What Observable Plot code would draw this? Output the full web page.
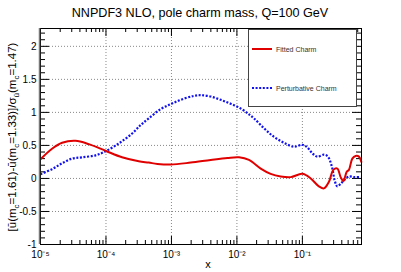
<!DOCTYPE html>
<html><head><meta charset="utf-8">
<script src="https://cdn.jsdelivr.net/npm/d3@7"></script>
<script src="https://cdn.jsdelivr.net/npm/@observablehq/plot@0.6"></script>
<style>body{margin:0;background:#fff} svg{display:block}</style>
</head><body><div id="chart"></div>
<script>
// ---- data ----
const fittedX = [1e-5, 1.5e-5, 2.14e-5, 3.42e-5, 5.46e-5, 9.8e-5, 1.76e-4, 3.17e-4, 4.5e-4, 6.1e-4, 9.75e-4,
  1.97e-3, 3.98e-3, 7.16e-3, 1.08e-2, 1.53e-2, 2.31e-2, 3.28e-2, 4.67e-2, 6.63e-2, 0.1, 0.134, 0.179, 0.214,
  0.255, 0.297, 0.342, 0.384, 0.423, 0.475, 0.514, 0.579, 0.651, 0.731, 0.796];
const fittedY = [0.29, 0.45, 0.54, 0.57, 0.52, 0.42, 0.32, 0.26, 0.24, 0.22, 0.21,
  0.24, 0.28, 0.31, 0.32, 0.28, 0.15, 0.07, 0.03, 0.02, 0.07, 0.0, -0.12, -0.15,
  -0.05, 0.13, 0.15, 0.02, -0.04, 0.10, 0.13, 0.30, 0.34, 0.33, 0.25];
const pertX = [1e-5, 1.5e-5, 2.14e-5, 3.03e-5, 4.31e-5, 6.92e-5, 9.8e-5, 1.57e-4, 2.5e-4, 3.4e-4, 4.5e-4,
  6.87e-4, 1e-3, 1.47e-3, 2.21e-3, 2.8e-3, 3.98e-3, 5.66e-3, 8.04e-3, 1.14e-2, 1.53e-2, 1.82e-2, 2.59e-2,
  3.68e-2, 5.24e-2, 7.44e-2, 0.1, 0.119, 0.142, 0.169, 0.214, 0.246, 0.287, 0.311, 0.342, 0.384, 0.431,
  0.514, 0.614, 0.776];
const pertY = [0.065, 0.14, 0.23, 0.30, 0.32, 0.35, 0.41, 0.53, 0.68, 0.81, 0.91,
  1.05, 1.13, 1.20, 1.25, 1.26, 1.24, 1.19, 1.13, 1.06, 0.97, 0.91, 0.76,
  0.63, 0.54, 0.48, 0.51, 0.47, 0.38, 0.33, 0.36, 0.33, 0.15, -0.03, -0.12, -0.08, -0.03,
  0.03, 0.02, 0.02];
const seriesNames = ["Fitted Charm", "Perturbative Charm"];
const seriesColors = ["#e00000", "#1010f0"];
const yTicks = [-1, -0.5, 0, 0.5, 1, 1.5, 2];
const yGrid = [-0.5, 0, 0.5, 1, 1.5, 2];
const xTicks = [1e-5, 1e-4, 1e-3, 1e-2, 1e-1];
const xTickLabels = ["10⁻⁵", "10⁻⁴", "10⁻³", "10⁻²", "10⁻¹"];
const xGrid = [1e-4, 1e-3, 1e-2, 1e-1];
const titleText = "NNPDF3 NLO, pole charm mass, Q=100 GeV";
const xLabel = "x";

// ---- layout ----
const W = 401, H = 272, mL = 40, mR = 40, mT = 28, mB = 28;
const fw = W - mL - mR, fh = H - mT - mB;
const FONT = "'Liberation Sans', Arial, sans-serif";

const yMinor = d3.range(-10, 23).map(i => i / 10).filter(v => !yTicks.includes(v));
const xMinor = [];
for (let e = -5; e <= -1; e++) for (let m = 2; m <= 9; m++) { const v = m * Math.pow(10, e); if (v <= 0.8) xMinor.push(v); }

const fitted = fittedX.map((x, i) => ({x, y: fittedY[i]}));
const pert = pertX.map((x, i) => ({x, y: pertY[i]}));

const plot = Plot.plot({
  width: W, height: H,
  marginLeft: mL, marginRight: mR, marginTop: mT, marginBottom: mB,
  style: {fontFamily: FONT, fontSize: "10px", color: "#000", background: "#fff"},
  x: {type: "log", domain: [1e-5, 0.8], axis: null},
  y: {domain: [-1, 2.27], axis: null},
  marks: [
    Plot.ruleY(yGrid, {stroke: "#888", strokeDasharray: "1,2", strokeWidth: 1}),
    Plot.ruleX(xGrid, {stroke: "#888", strokeDasharray: "1,2", strokeWidth: 1}),
    // ticks inside the frame on all four sides
    Plot.ruleY(yTicks, {insetRight: fw - 9, stroke: "#000"}),
    Plot.ruleY(yMinor, {insetRight: fw - 5, stroke: "#000"}),
    Plot.ruleY(yTicks, {insetLeft: fw - 9, stroke: "#000"}),
    Plot.ruleY(yMinor, {insetLeft: fw - 5, stroke: "#000"}),
    Plot.ruleX(xTicks, {insetTop: fh - 8, stroke: "#000"}),
    Plot.ruleX(xMinor, {insetTop: fh - 4, stroke: "#000"}),
    Plot.ruleX(xTicks, {insetBottom: fh - 8, stroke: "#000"}),
    Plot.ruleX(xMinor, {insetBottom: fh - 4, stroke: "#000"}),
    Plot.line(pert, {x: "x", y: "y", stroke: seriesColors[1], strokeWidth: 2.2,
      strokeDasharray: "2,1.6", strokeLinecap: "butt", strokeLinejoin: "miter", curve: "catmull-rom"}),
    Plot.line(fitted, {x: "x", y: "y", stroke: seriesColors[0], strokeWidth: 2,
      curve: "catmull-rom"}),
    Plot.frame({stroke: "#000", strokeWidth: 1}),
    Plot.ruleX([1e-5], {stroke: "#777", strokeWidth: 1.5, dx: -1}),
    Plot.axisY(yTicks, {tickSize: 0, tickPadding: 4, fontSize: 10, label: null,
      tickFormat: d => String(d)}),
    Plot.axisX(xTicks, {tickSize: 0, tickPadding: 6.5, fontSize: 10, label: null,
      tickFormat: d => xTickLabels[xTicks.indexOf(d)]})
  ]
});

document.getElementById("chart").appendChild(plot);
const svg = d3.select(plot);

// title
svg.append("text").attr("x", 200).attr("y", 17).attr("text-anchor", "middle")
  .attr("font-size", 12.6).attr("font-family", FONT).text(titleText);
// x label
svg.append("text").attr("x", 208).attr("y", 268).attr("text-anchor", "middle")
  .attr("font-size", 11).attr("font-family", FONT).text(xLabel);
// y label with subscripts
const yl = svg.append("text").attr("transform", "translate(16,137) rotate(-90)")
  .attr("text-anchor", "middle").attr("font-size", 11.5).attr("font-family", FONT);
const parts = [["[ū(m", 0], ["c", 1], ["=1.61)-ū(m", 0], ["c", 1], ["=1.33)]/σ", 0], ["ū", 1], ["(m", 0], ["c", 1], ["=1.47)", 0]];
let shifted = false;
parts.forEach(([t, sub]) => {
  const dy = sub ? 3 : (shifted ? -3 : 0);
  shifted = !!sub;
  yl.append("tspan").attr("font-size", sub ? 8 : 11.5).attr("dy", dy).text(t);
});
// legend
const lg = svg.append("g").attr("font-family", FONT).attr("font-size", 7).attr("text-anchor", "start");
lg.append("rect").attr("x", 248.5).attr("y", 29.5).attr("width", 108).attr("height", 77)
  .attr("fill", "#fff").attr("stroke", "#444");
const ly = [49, 88];
seriesNames.forEach((name, i) => {
  const ln = lg.append("line").attr("x1", 252).attr("x2", 272).attr("y1", ly[i]).attr("y2", ly[i])
    .attr("stroke", seriesColors[i]).attr("stroke-width", i ? 2.2 : 2);
  if (i) ln.attr("stroke-dasharray", "2,1.6");
  lg.append("text").attr("x", 276).attr("y", ly[i] + 2.5).attr("fill", "#333").text(name);
});
</script></body></html>
